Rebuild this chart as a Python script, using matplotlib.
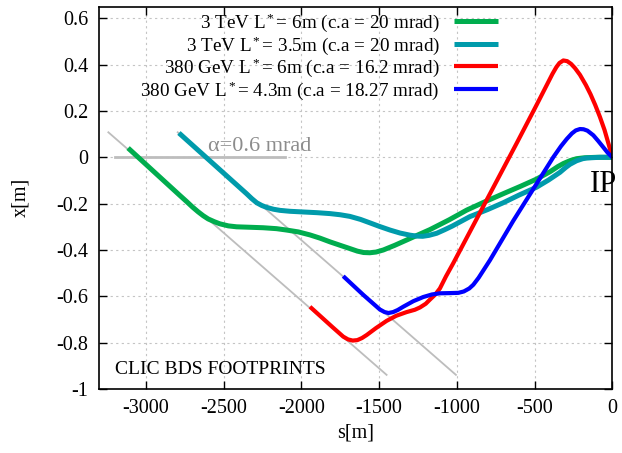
import matplotlib
matplotlib.use("Agg")
import matplotlib.pyplot as plt

plt.rcParams['font.family'] = ['Liberation Serif', 'DejaVu Serif']
plt.rcParams['mathtext.fontset'] = 'custom'
plt.rcParams['mathtext.rm'] = 'Liberation Serif'
plt.rcParams['mathtext.it'] = 'Liberation Serif:italic'
plt.rcParams['axes.unicode_minus'] = False

# 3 TeV L* = 6m
s_green = [-3115, -2783, -2740, -2700, -2665, -2632, -2600, -2560, -2525, -2470,
           -2417, -2330, -2246, -2160, -2095, -2020, -1945, -1880, -1816, -1750,
           -1688, -1640, -1600, -1560, -1520, -1473, -1400, -1323, -1250, -1173,
           -1050, -937, -820, -701, -590, -487, -400, -350, -315, -270,
           -230, -180, -100, 0]
x_green = [0.040, -0.164, -0.190, -0.215, -0.235, -0.252, -0.266, -0.278, -0.287, -0.296,
           -0.300, -0.302, -0.304, -0.308, -0.314, -0.322, -0.335, -0.349, -0.365, -0.380,
           -0.394, -0.405, -0.411, -0.412, -0.409, -0.400, -0.380, -0.357, -0.335, -0.312,
           -0.270, -0.228, -0.192, -0.157, -0.125, -0.094, -0.062, -0.040, -0.027, -0.014,
           -0.006, -0.002, 0.0, 0.0]

# 3 TeV L* = 3.5m
s_teal = [-2788, -2353, -2320, -2288, -2255, -2224, -2181, -2138, -2074, -1988,
          -1900, -1816, -1750, -1688, -1620, -1559, -1495, -1430, -1365, -1302,
          -1260, -1220, -1180, -1130, -1080, -1030, -916, -800, -701, -600,
          -487, -410, -337, -300, -272, -230, -190, -165, -80, 0]
x_teal = [0.105, -0.157, -0.178, -0.196, -0.208, -0.216, -0.224, -0.229, -0.233, -0.236,
          -0.239, -0.243, -0.248, -0.255, -0.268, -0.283, -0.299, -0.314, -0.327, -0.336,
          -0.340, -0.341, -0.337, -0.328, -0.313, -0.297, -0.256, -0.225, -0.196, -0.163,
          -0.129, -0.098, -0.065, -0.044, -0.030, -0.015, -0.006, -0.003, 0.0, 0.0]

# 380 GeV L* = 6m
s_red = [-1945, -1800, -1731, -1700, -1670, -1640, -1610, -1580, -1520, -1452,
         -1390, -1323, -1270, -1237, -1200, -1173, -1140, -1109, -1070, -1023,
         -615, -487, -420, -385, -360, -340, -315, -290, -265, -240,
         -208, -170, -140, -110, -80, -50, -25, 0]
x_red = [-0.645, -0.733, -0.774, -0.786, -0.791, -0.789, -0.780, -0.767, -0.737, -0.706,
         -0.684, -0.668, -0.658, -0.648, -0.632, -0.614, -0.593, -0.566, -0.514, -0.457,
         0.061, 0.226, 0.314, 0.360, 0.389, 0.407, 0.418, 0.415, 0.403, 0.385,
         0.356, 0.312, 0.272, 0.226, 0.175, 0.118, 0.060, 0.0]

# 380 GeV L* = 4.3m
s_blue = [-1731, -1600, -1495, -1465, -1440, -1410, -1380, -1345, -1280, -1216,
          -1160, -1109, -1040, -990, -955, -920, -894, -860, -787, -637,
          -380, -330, -293, -260, -235, -208, -185, -160, -122, -90,
          -60, -30, 0]
x_blue = [-0.513, -0.595, -0.657, -0.668, -0.672, -0.668, -0.659, -0.645, -0.621, -0.603,
          -0.592, -0.587, -0.586, -0.585, -0.579, -0.566, -0.550, -0.520, -0.444, -0.274,
          0.000, 0.048, 0.079, 0.103, 0.116, 0.122, 0.121, 0.115, 0.095, 0.070,
          0.045, 0.020, 0.0]

# alpha reference lines
s_ref1 = [-3242, -1452]
x_ref1 = [0.108, -0.939]
s_ref2 = [-2796, -1006]
x_ref2 = [0.108, -0.939]
s_hor = [-3199, -2107]
x_hor = [0.0, 0.0]

labels = [r"3 TeV L$^*$= 6m (c.a = 20 mrad)",
          r"3 TeV L$^*$= 3.5m (c.a = 20 mrad)",
          r"380 GeV L$^*$= 6m (c.a = 16.2 mrad)",
          r"380 GeV L$^*$= 4.3m (c.a = 18.27 mrad)"]

xticks = [-3000, -2500, -2000, -1500, -1000, -500, 0]
yticks = [-1, -0.8, -0.6, -0.4, -0.2, 0, 0.2, 0.4, 0.6]

fig = plt.figure(figsize=(6.22, 4.53), dpi=100)
ax = fig.add_axes([0.1597, 0.1413, 0.8247, 0.8439])

ax.plot(s_ref1, x_ref1, color='#bdbdbd', lw=1.3)
ax.plot(s_ref2, x_ref2, color='#bdbdbd', lw=1.3)
ax.plot(s_hor, x_hor, color='#bdbdbd', lw=2.0)

ax.plot(s_green, x_green, color='#00ad4e', lw=3.6, label=labels[0], solid_capstyle='butt')
ax.plot(s_teal, x_teal, color='#009bab', lw=3.6, label=labels[1], solid_capstyle='butt')
ax.plot(s_red, x_red, color='#ff0000', lw=3.0, label=labels[2], solid_capstyle='butt')
ax.plot(s_blue, x_blue, color='#0000ff', lw=3.0, label=labels[3], solid_capstyle='butt')

ax.text(-2602, 0.029, "α=0.6 mrad", fontsize=16, color='#8c8c8c')
ax.text(30, -0.151, "IP", fontsize=22, ha='right', va='baseline')
ax.text(-3199, -0.934, "CLIC BDS FOOTPRINTS", fontsize=14, va='baseline')

ax.set_xlim(-3300, 0)
ax.set_ylim(-1, 0.65)
ax.set_xticks(xticks)
ax.set_xticklabels(['%g' % t for t in xticks])
ax.set_yticks(yticks)
ax.set_yticklabels(['%g' % t for t in yticks])
ax.tick_params(direction='in', top=True, right=True, length=6, width=1,
               labelsize=14.5)
ax.tick_params(axis='x', pad=7)
ax.tick_params(axis='y', pad=8)
for sp in ax.spines.values():
    sp.set_linewidth(1.2)

ax.grid(True, color='#c4c4c4', linestyle=(0, (2, 3)), linewidth=0.8)
ax.set_axisbelow(True)

ax.set_xlabel("s[m]", fontsize=14.5)
ax.set_ylabel("x[m]", fontsize=14.5)
ax.xaxis.set_label_coords(0.5, -0.089)
ax.yaxis.set_label_coords(-0.135, 0.5)

ax.legend(loc='upper right', bbox_to_anchor=(0.7778, 0.987), frameon=False,
          markerfirst=False, fontsize=13.8, handlelength=2.3, handletextpad=0.75,
          borderpad=0, borderaxespad=0, labelspacing=0.0)

fig.savefig("out.png", dpi=100)
